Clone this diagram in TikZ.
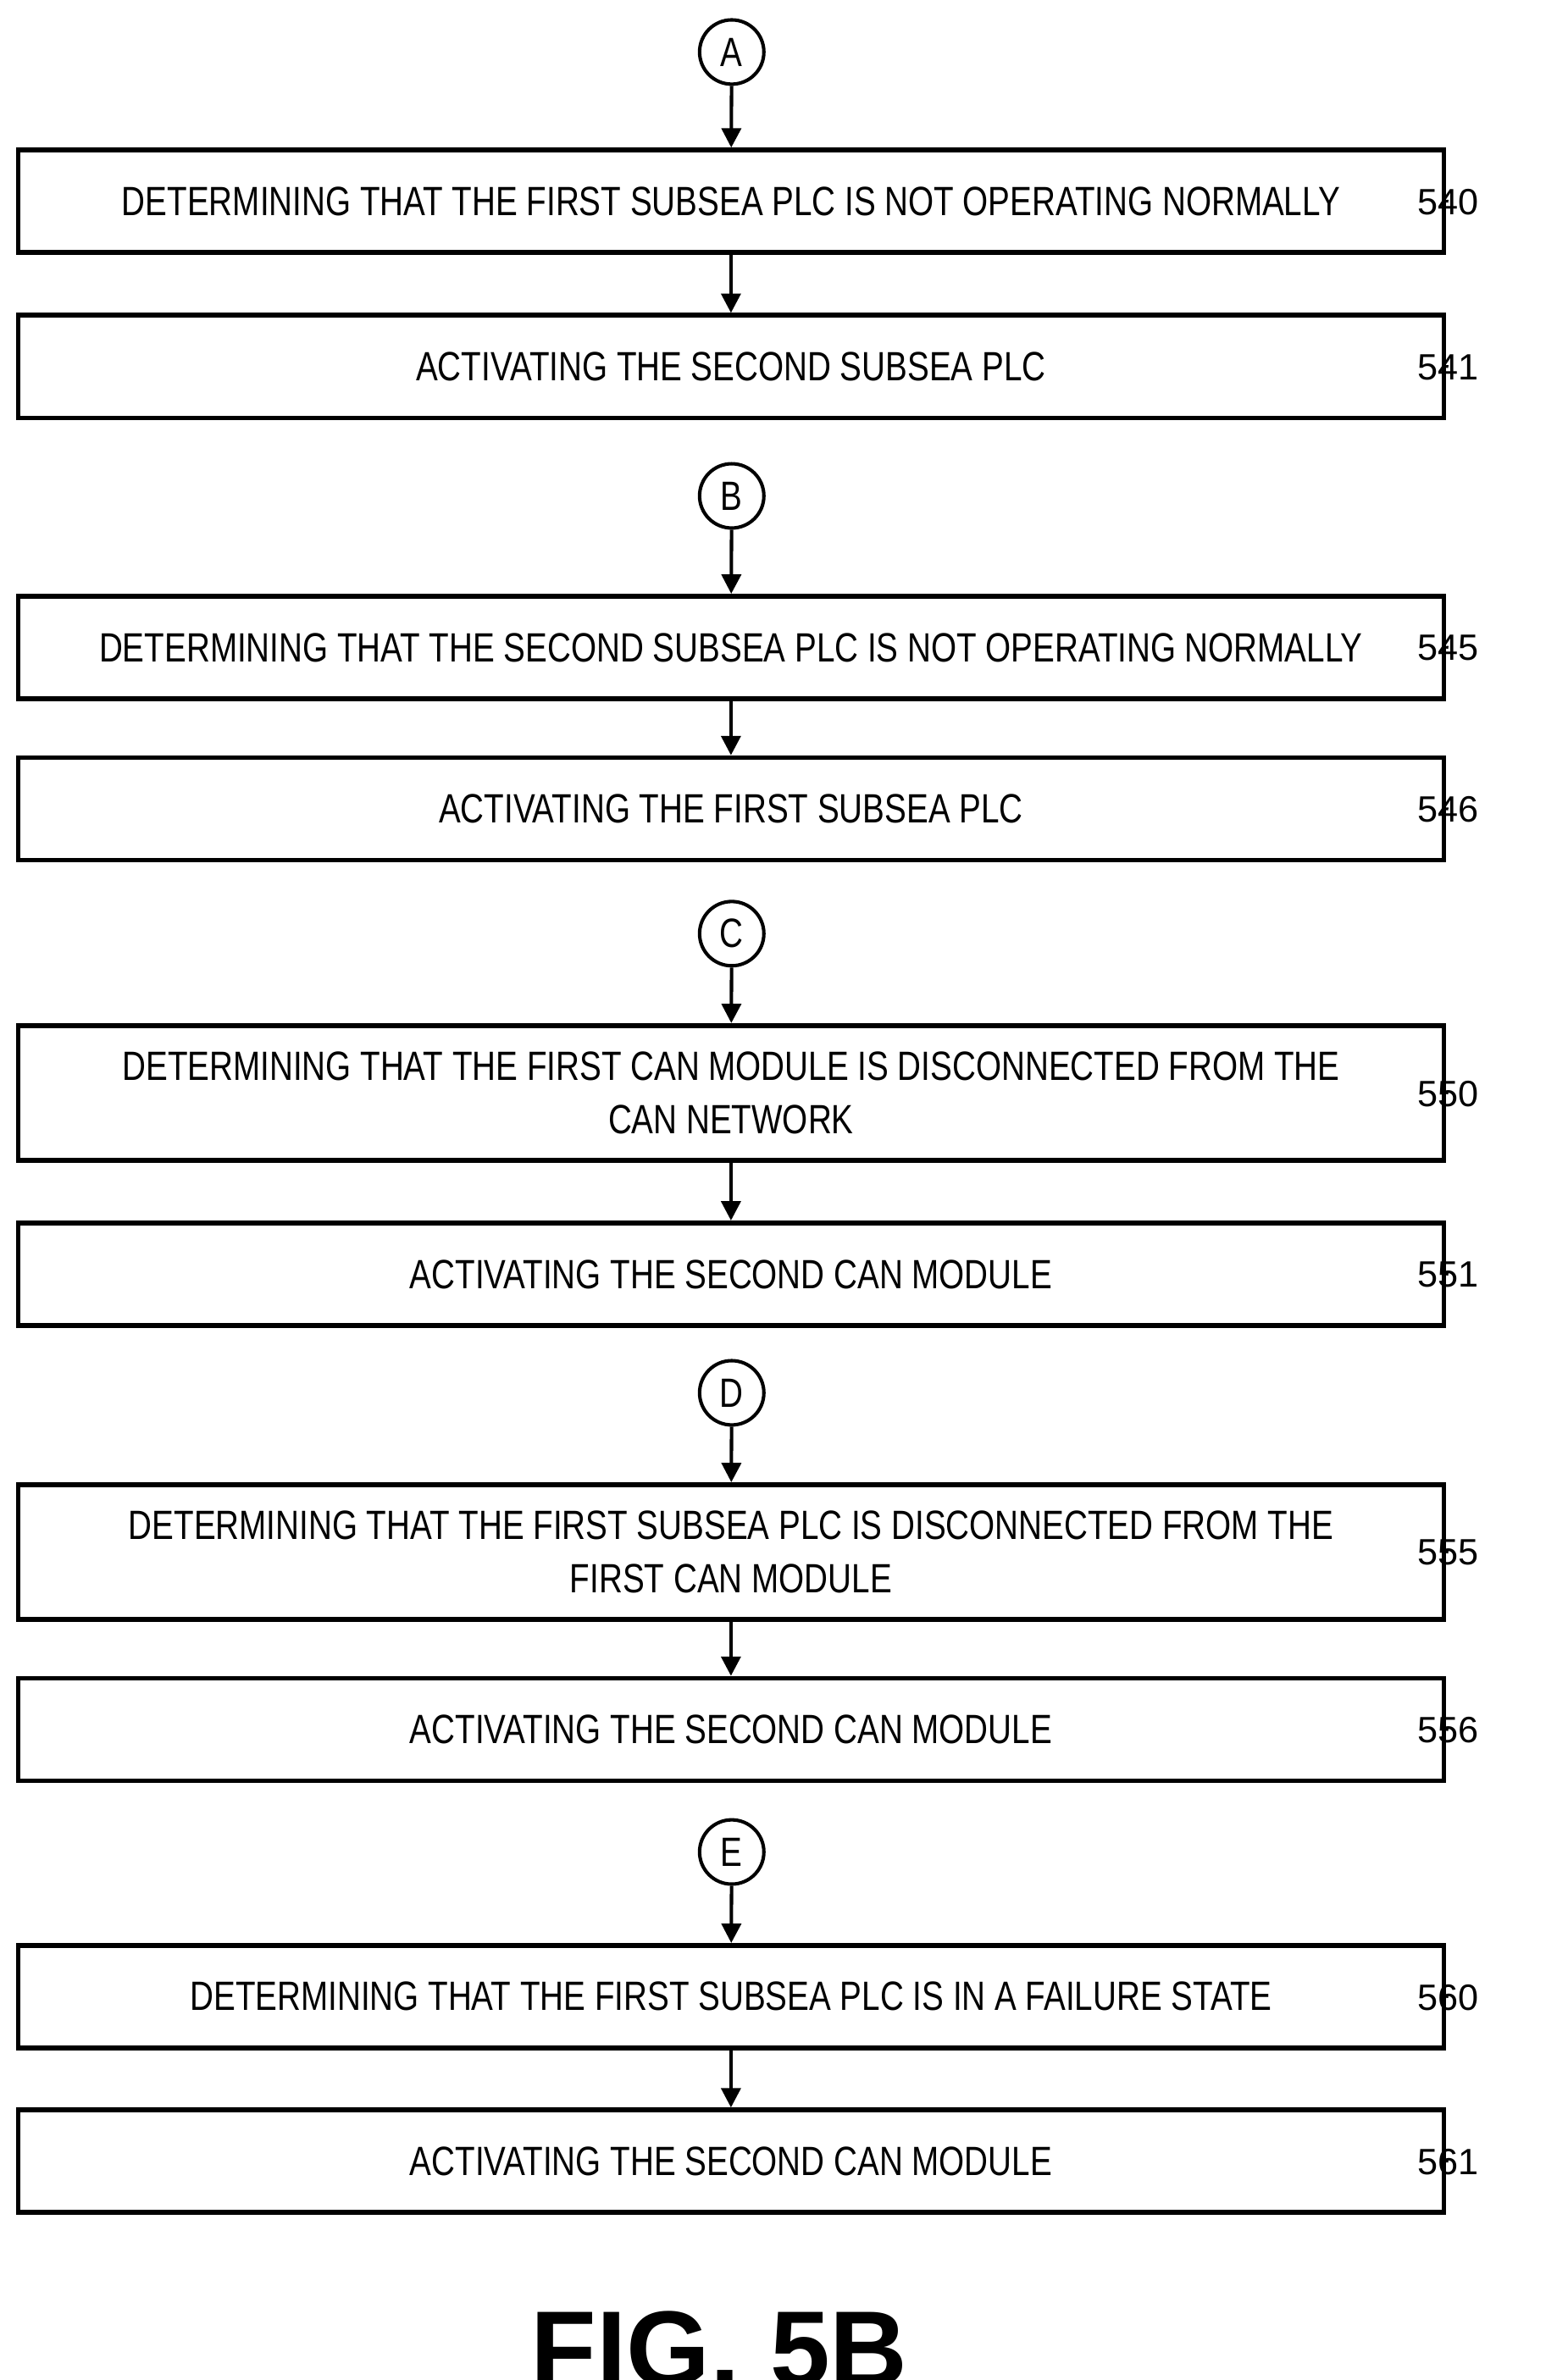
\documentclass[tikz,border=0pt]{standalone}
\usepackage{fontspec}
\setmainfont{Liberation Sans}[FakeStretch=0.8]
\newfontfamily\labelfont{Liberation Sans}
\usetikzlibrary{arrows.meta}
\tikzset{
stepbox/.style={rectangle, draw, line width=2.2pt, minimum width=23.275cm, minimum height=1.675cm, align=center, font=\fontsize{19}{25}\selectfont, inner sep=0pt},
tall/.style={minimum height=2.2cm},
conn/.style={circle, draw, line width=1.6pt, minimum size=1.05cm, inner sep=0pt, font=\fontsize{19}{22}\selectfont},
ref/.style={font=\labelfont\fontsize{17}{20}\selectfont},
flow/.style={line width=1.6pt, -{Triangle[length=9pt,width=9pt]}},
squig/.style={line width=1.3pt}
}
\newcommand{\squiggle}[2]{%
\draw[squig] (#1.east) ++(0,0.05) .. controls +(0.55,0.45) and +(-0.35,-0.7) .. ++(1.45,-0.05) coordinate (#2sq);
\node[ref] at ([shift={(0.1,0.5)}]#2sq) {#2};}

\begin{document}
\begin{tikzpicture}[x=0.025cm,y=-0.025cm]
\useasboundingbox (0,0) rectangle (1024,1555);
\node [conn] (A) at (478,34) {A};
\node [stepbox] (s540) at (477.5,131.5) {DETERMINING THAT THE FIRST SUBSEA PLC IS NOT OPERATING NORMALLY};
\node [stepbox] (s541) at (477.5,239.5) {ACTIVATING THE SECOND SUBSEA PLC};
\node [conn] (B) at (478,324) {B};
\node [stepbox] (s545) at (477.5,423) {DETERMINING THAT THE SECOND SUBSEA PLC IS NOT OPERATING NORMALLY};
\node [stepbox] (s546) at (477.5,528.5) {ACTIVATING THE FIRST SUBSEA PLC};
\node [conn] (C) at (478,610) {C};
\node [stepbox, tall] (s550) at (477.5,714) {DETERMINING THAT THE FIRST CAN MODULE IS DISCONNECTED FROM THE\\CAN NETWORK};
\node [stepbox] (s551) at (477.5,832.5) {ACTIVATING THE SECOND CAN MODULE};
\node [conn] (D) at (478,910) {D};
\node [stepbox, tall] (s555) at (477.5,1014) {DETERMINING THAT THE FIRST SUBSEA PLC IS DISCONNECTED FROM THE\\FIRST CAN MODULE};
\node [stepbox] (s556) at (477.5,1130) {ACTIVATING THE SECOND CAN MODULE};
\node [conn] (E) at (478,1210) {E};
\node [stepbox] (s560) at (477.5,1304.5) {DETERMINING THAT THE FIRST SUBSEA PLC IS IN A FAILURE STATE};
\node [stepbox] (s561) at (477.5,1412) {ACTIVATING THE SECOND CAN MODULE};
\node [draw=none, font=\labelfont\bfseries\fontsize{50}{56}\selectfont] (fig) at (470,1535) {FIG. 5B};

\draw[flow] (A) -- (s540);
\draw[flow] (s540) -- (s541);
\draw[flow] (B) -- (s545);
\draw[flow] (s545) -- (s546);
\draw[flow] (C) -- (s550);
\draw[flow] (s550) -- (s551);
\draw[flow] (D) -- (s555);
\draw[flow] (s555) -- (s556);
\draw[flow] (E) -- (s560);
\draw[flow] (s560) -- (s561);

\squiggle{s540}{540}
\squiggle{s541}{541}
\squiggle{s545}{545}
\squiggle{s546}{546}
\squiggle{s550}{550}
\squiggle{s551}{551}
\squiggle{s555}{555}
\squiggle{s556}{556}
\squiggle{s560}{560}
\squiggle{s561}{561}
\end{tikzpicture}
\end{document}
